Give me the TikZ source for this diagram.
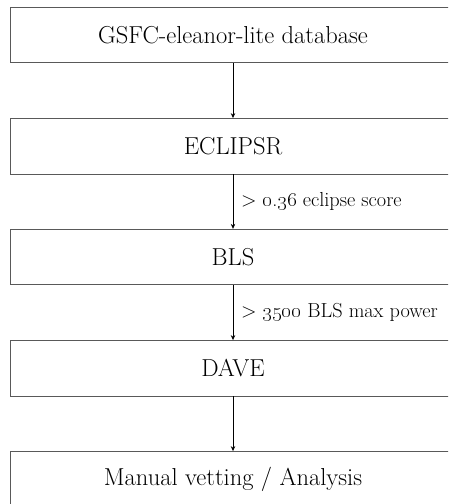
\documentclass[tikz,border=0pt]{standalone}
\usetikzlibrary{arrows.meta}
\tikzset{
  stagebox/.style={draw=black!65, line width=0.8pt, minimum width=445pt, minimum height=55.5pt, inner sep=0pt, font=\fontsize{24.5}{29}\selectfont, text=black},
  flow/.style={draw=black, line width=0.8pt, -{Stealth[length=5pt,width=4.5pt]}},
  cond/.style={anchor=west, inner sep=0pt, font=\fontsize{20.3}{24}\selectfont}
}
\begin{document}
\begin{tikzpicture}[x=1pt,y=-1pt]
\useasboundingbox (0,0) rectangle (448,504);
\clip (0,0) rectangle (448,504);
\node[stagebox] (gsfc) at (233,35) {GSFC-eleanor-lite database};
\node[stagebox] (ecl) at (233,146.25) {ECLIPSR};
\node[stagebox] (bls) at (233,257) {BLS};
\node[stagebox] (dave) at (233,368.25) {DAVE};
\node[stagebox] (man) at (233,479.25) {Manual vetting / Analysis};
\draw[flow] (gsfc.south) -- (ecl.north);
\draw[flow] (ecl.south) -- (bls.north) coordinate[midway] (m1);
\draw[flow] (bls.south) -- (dave.north) coordinate[midway] (m2);
\draw[flow] (dave.south) -- (man.north);
\node[cond] (c1) at ([xshift=8pt]m1) {> \oldstylenums{0}.\oldstylenums{36} eclipse score};
\node[cond] (c2) at ([xshift=8pt]m2) {> \oldstylenums{3500} BLS max power};
\end{tikzpicture}
\end{document}
